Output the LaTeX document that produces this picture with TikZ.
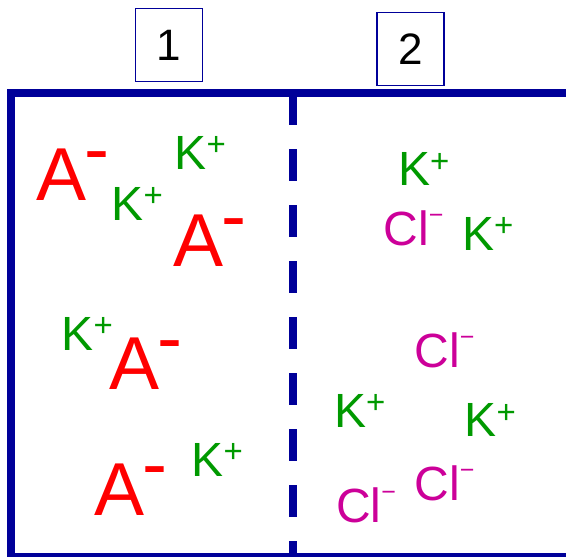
\documentclass[tikz,border=0pt]{standalone}
\usepackage{fontspec}
\setmainfont{Liberation Sans}
\definecolor{wallblue}{RGB}{0,0,153}
\definecolor{ionred}{RGB}{255,0,0}
\definecolor{iongreen}{RGB}{0,153,0}
\definecolor{ionpink}{RGB}{204,0,153}
\newcommand\anionA{{\fontsize{75}{75}\selectfont A\kern-2pt\raisebox{25.5pt}{-}}}
\newcommand\cationK{{\fontsize{48}{48}\selectfont K\raisebox{13.5pt}{\fontsize{33}{33}\selectfont +}}}
\newcommand\anionCl{{\fontsize{48}{48}\selectfont Cl\raisebox{21.5pt}{\fontsize{25}{25}\selectfont −}}}
\tikzset{
  wall/.style={draw=wallblue, line width=7.7pt, line join=miter},
  membrane/.style={draw=wallblue, line width=7.7pt, dash pattern=on 31.5pt off 24.5pt},
  numbox/.style={draw=wallblue, line width=1.5pt, fill=white, minimum width=67pt, minimum height=73.4pt, inner sep=0pt, font=\fontsize{44}{44}\selectfont},
  ion/.style={anchor=base west, inner sep=0pt, outer sep=0pt},
  aion/.style={ion, text=ionred},
  kion/.style={ion, text=iongreen},
  clion/.style={ion, text=ionpink}
}
\begin{document}
\begin{tikzpicture}[x=1pt,y=-1pt]
\useasboundingbox (0,0) rectangle (566,557);
% walls
\coordinate (tr) at (572,93);
\coordinate (tl) at (11.2,93);
\coordinate (bl) at (11.2,556.5);
\coordinate (br) at (572,556.5);
\coordinate (mt) at (292.8,93);
\coordinate (mb) at (292.8,556.5);
\draw[wall] (tr) -- (tl) -- (bl) -- (br);
\draw[membrane] (mt) -- (mb);
% compartment labels
\node[numbox] (b1) at (169.2,45) {1};
\node[numbox] (b2) at (410.3,49) {2};
% compartment 1
\node[aion] (a1) at (36,200) {\anionA};
\node[aion] (a2) at (173,266.7) {\anionA};
\node[aion] (a3) at (109.4,389.3) {\anionA};
\node[aion] (a4) at (94,515) {\anionA};
\node[kion] (k1) at (174.5,169.3) {\cationK};
\node[kion] (k2) at (111.5,220) {\cationK};
\node[kion] (k3) at (61.5,350) {\cationK};
\node[kion] (k4) at (191.5,476) {\cationK};
% compartment 2
\node[kion] (k5) at (398.2,185.7) {\cationK};
\node[kion] (k6) at (462.2,250) {\cationK};
\node[kion] (k7) at (334,427) {\cationK};
\node[kion] (k8) at (464.7,436.7) {\cationK};
\node[clion] (c1) at (383.6,245) {\anionCl};
\node[clion] (c2) at (414.6,367) {\anionCl};
\node[clion] (c3) at (414.6,500) {\anionCl};
\node[clion] (c4) at (336,522) {\anionCl};
\end{tikzpicture}
\end{document}
